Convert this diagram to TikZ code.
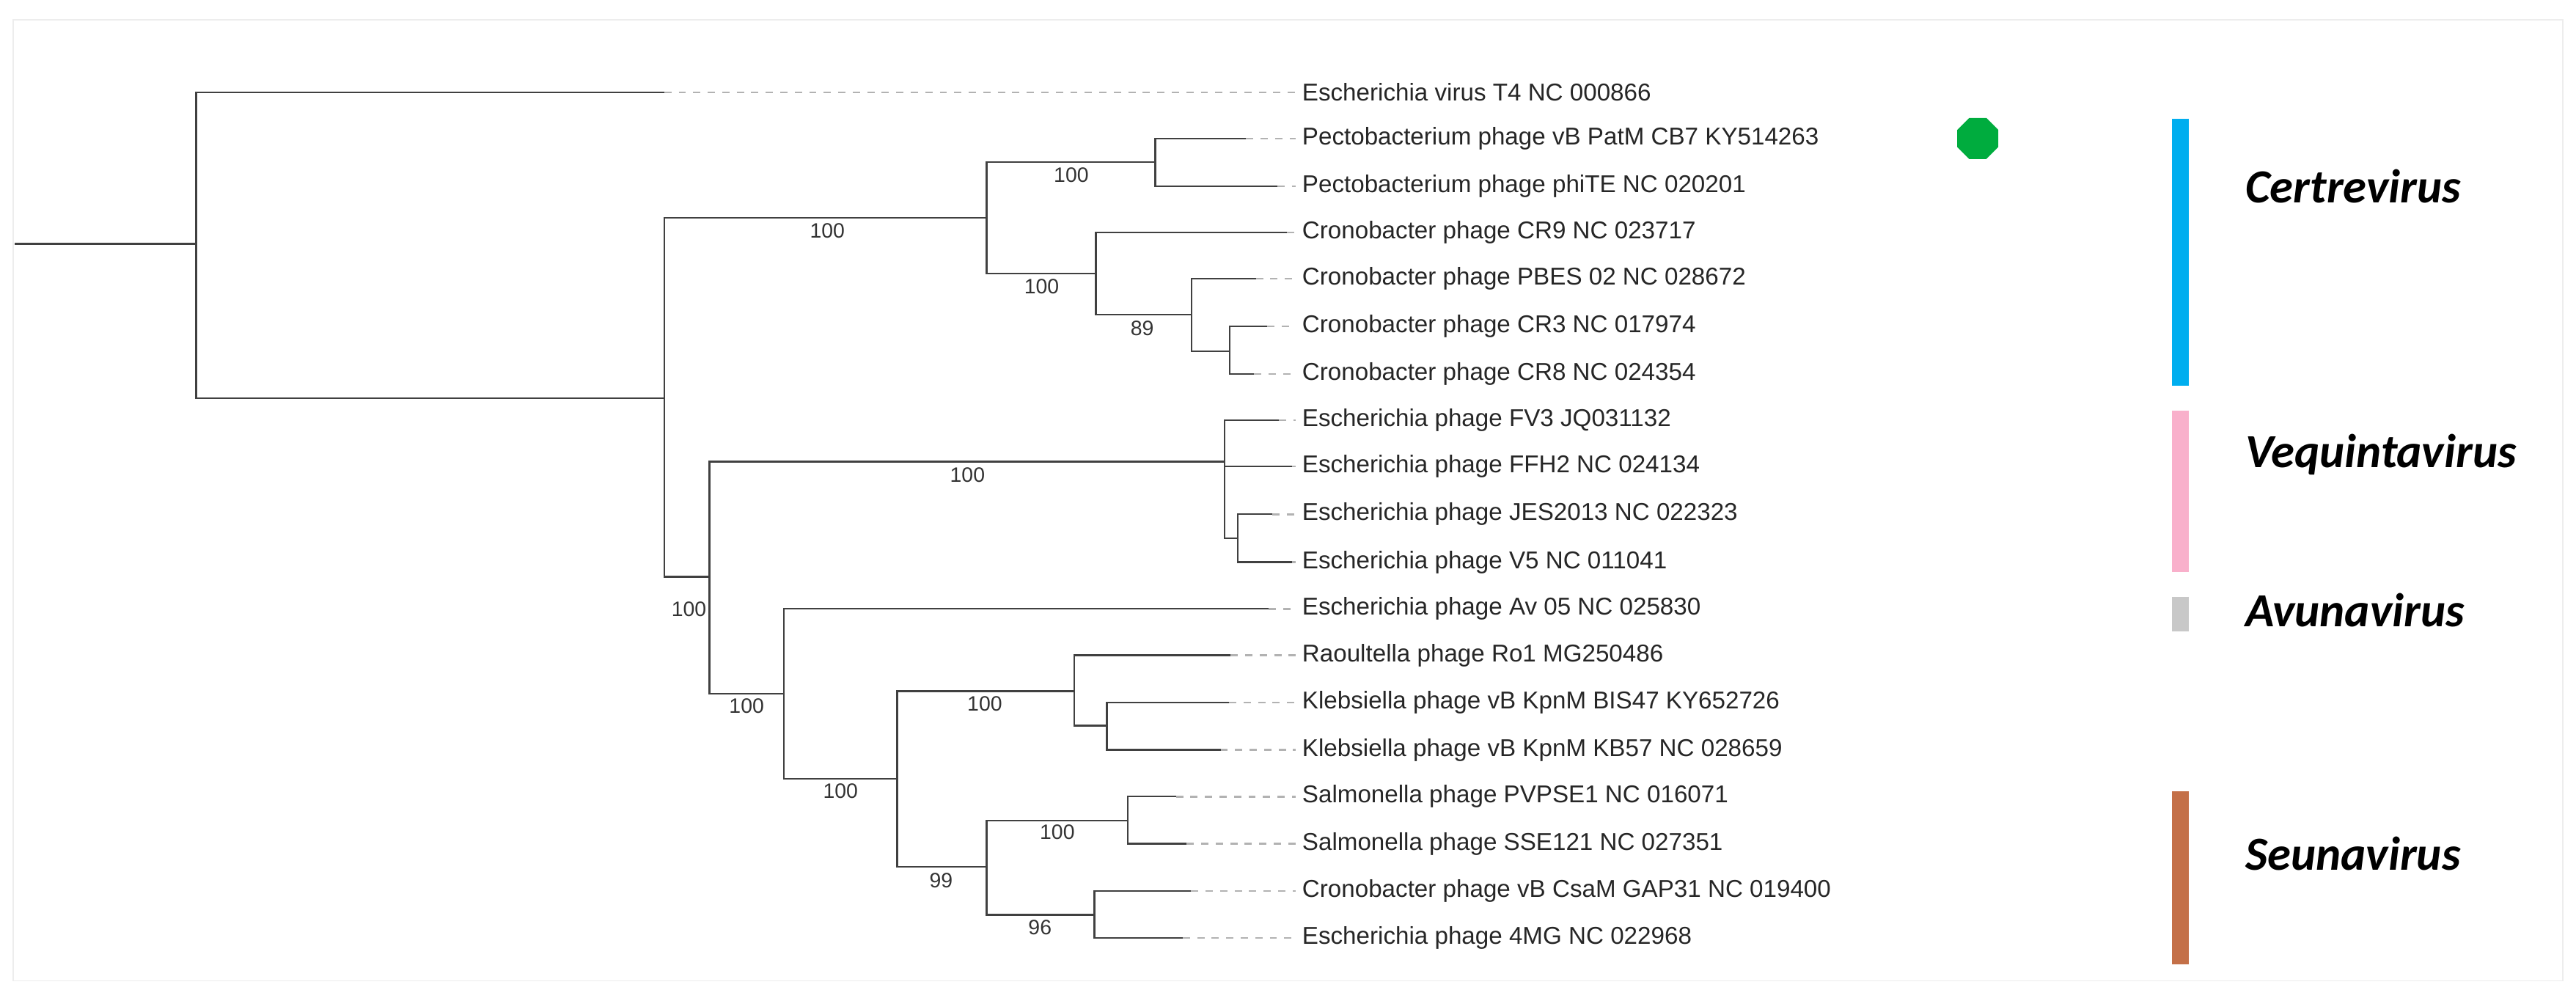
\documentclass[tikz,border=0pt]{standalone}
\usepackage{fontspec}
\setmainfont{Liberation Sans}
\newfontfamily\genusfont{Carlito}
\usetikzlibrary{shapes.geometric}

\definecolor{certre}{RGB}{0,174,239}
\definecolor{vequin}{RGB}{249,176,203}
\definecolor{avuna}{RGB}{200,200,200}
\definecolor{seuna}{RGB}{196,112,72}
\definecolor{marker}{RGB}{0,172,62}

\begin{document}
\begin{tikzpicture}[
  x=0.05cm, y=-0.05cm,
  branch/.style={
    draw=black!75,
    line width=1.5pt
  },
  guide/.style={
    draw=black!30,
    line width=1.6pt,
    dash pattern=on 0.22cm off 0.22cm
  },
  tip/.style={
    anchor=west,
    inner sep=0.2cm,
    font=\fontsize{21}{24}\selectfont,
    text=black!85
  },
  boot/.style={
    inner sep=0pt,
    font=\fontsize{18}{20}\selectfont,
    text=black!80
  },
  genus/.style={
    anchor=west,
    font=\genusfont\bfseries\itshape\fontsize{41}{45}\selectfont
  },
  bar/.style={
    line width=0.5cm
  }
]
  % frame
  \useasboundingbox (0,0) rectangle (1563,607);
  \draw[black!7, line width=1pt] (8,12) rectangle (1555,595);

  % internal nodes
  \coordinate (Root) at (9,148);
  \coordinate (N1) at (119,148);
  \coordinate (N2) at (403,241.5);
  \coordinate (Certre) at (598.6,132);
  \coordinate (Pecto) at (701,98.4);
  \coordinate (Crono) at (665,166);
  \coordinate (CronoB) at (723,191);
  \coordinate (CronoC) at (746,213);
  \coordinate (N8) at (430.5,350);
  \coordinate (Vequin) at (743,280);
  \coordinate (VequinB) at (751,326.5);
  \coordinate (N11) at (475.5,420.8);
  \coordinate (N12) at (544.4,472.4);
  \coordinate (Klebs) at (651.7,419.3);
  \coordinate (KlebsB) at (671.6,440.3);
  \coordinate (Seuna) at (598.6,526);
  \coordinate (Salmo) at (684.4,497.8);
  \coordinate (SeunaB) at (664,555);

  % branch ends
  \coordinate (eT4) at (403,56);
  \coordinate (eCB7) at (756,84);
  \coordinate (ePhiTE) at (775,113);
  \coordinate (eCR9) at (781,141);
  \coordinate (ePBES) at (762,169);
  \coordinate (eCR3) at (769,198);
  \coordinate (eCR8) at (761,227);
  \coordinate (eFV3) at (776,255);
  \coordinate (eFFH2) at (784,283);
  \coordinate (eJES) at (772,312);
  \coordinate (eV5) at (784,341);
  \coordinate (eAv) at (769.7,369.4);
  \coordinate (eRo1) at (746.7,397.6);
  \coordinate (eBIS) at (745.7,426.3);
  \coordinate (eKB) at (740.6,454.9);
  \coordinate (ePVP) at (713.5,483.3);
  \coordinate (eSSE) at (720,511.9);
  \coordinate (eGAP) at (722.7,540.5);
  \coordinate (e4MG) at (717.6,569);

  % tip labels
  \node[tip] (T4) at (786,56) {Escherichia virus T4 NC 000866};
  \node[tip] (CB7) at (786,84) {Pectobacterium phage vB PatM CB7 KY514263};
  \node[tip] (PhiTE) at (786,113) {Pectobacterium phage phiTE NC 020201};
  \node[tip] (CR9) at (786,141) {Cronobacter phage CR9 NC 023717};
  \node[tip] (PBES) at (786,169) {Cronobacter phage PBES 02 NC 028672};
  \node[tip] (CR3) at (786,198) {Cronobacter phage CR3 NC 017974};
  \node[tip] (CR8) at (786,227) {Cronobacter phage CR8 NC 024354};
  \node[tip] (FV3) at (786,255) {Escherichia phage FV3 JQ031132};
  \node[tip] (FFH2) at (786,283) {Escherichia phage FFH2 NC 024134};
  \node[tip] (JES) at (786,312) {Escherichia phage JES2013 NC 022323};
  \node[tip] (V5) at (786,341) {Escherichia phage V5 NC 011041};
  \node[tip] (Av) at (786,369.4) {Escherichia phage Av 05 NC 025830};
  \node[tip] (Ro1) at (786,397.6) {Raoultella phage Ro1 MG250486};
  \node[tip] (BIS) at (786,426.3) {Klebsiella phage vB KpnM BIS47 KY652726};
  \node[tip] (KB) at (786,454.9) {Klebsiella phage vB KpnM KB57 NC 028659};
  \node[tip] (PVP) at (786,483.3) {Salmonella phage PVPSE1 NC 016071};
  \node[tip] (SSE) at (786,511.9) {Salmonella phage SSE121 NC 027351};
  \node[tip] (GAP) at (786,540.5) {Cronobacter phage vB CsaM GAP31 NC 019400};
  \node[tip] (4MG) at (786,569) {Escherichia phage 4MG NC 022968};

  % tree
  \draw[branch] (Root) -- (N1);
  \draw[branch] (N1) |- (eT4);
  \draw[branch] (N1) |- (N2);
  \draw[branch] (N2) |- (Certre);
  \draw[branch] (Certre) |- (Pecto);
  \draw[branch] (Pecto) |- (eCB7);
  \draw[branch] (Pecto) |- (ePhiTE);
  \draw[branch] (Certre) |- (Crono);
  \draw[branch] (Crono) |- (eCR9);
  \draw[branch] (Crono) |- (CronoB);
  \draw[branch] (CronoB) |- (ePBES);
  \draw[branch] (CronoB) |- (CronoC);
  \draw[branch] (CronoC) |- (eCR3);
  \draw[branch] (CronoC) |- (eCR8);
  \draw[branch] (N2) |- (N8);
  \draw[branch] (N8) |- (Vequin);
  \draw[branch] (Vequin) |- (eFV3);
  \draw[branch] (Vequin) |- (eFFH2);
  \draw[branch] (Vequin) |- (VequinB);
  \draw[branch] (VequinB) |- (eJES);
  \draw[branch] (VequinB) |- (eV5);
  \draw[branch] (N8) |- (N11);
  \draw[branch] (N11) |- (eAv);
  \draw[branch] (N11) |- (N12);
  \draw[branch] (N12) |- (Klebs);
  \draw[branch] (Klebs) |- (eRo1);
  \draw[branch] (Klebs) |- (KlebsB);
  \draw[branch] (KlebsB) |- (eBIS);
  \draw[branch] (KlebsB) |- (eKB);
  \draw[branch] (N12) |- (Seuna);
  \draw[branch] (Seuna) |- (Salmo);
  \draw[branch] (Salmo) |- (ePVP);
  \draw[branch] (Salmo) |- (eSSE);
  \draw[branch] (Seuna) |- (SeunaB);
  \draw[branch] (SeunaB) |- (eGAP);
  \draw[branch] (SeunaB) |- (e4MG);

  % dotted guides to labels
  \foreach \e/\t in {eT4/T4,eCB7/CB7,ePhiTE/PhiTE,eCR9/CR9,ePBES/PBES,eCR3/CR3,
      eCR8/CR8,eFV3/FV3,eFFH2/FFH2,eJES/JES,eV5/V5,eAv/Av,eRo1/Ro1,eBIS/BIS,
      eKB/KB,ePVP/PVP,eSSE/SSE,eGAP/GAP,e4MG/4MG}
    \draw[guide] (\e) -- (\t.west);

  % bootstrap values
  \node[boot] (bCertre) at (502,140) {100};
  \node[boot] (bPecto) at (650,106) {100};
  \node[boot] (bCrono) at (632,174) {100};
  \node[boot] (bCronoB) at (693,199) {89};
  \node[boot] (bVequin) at (587,288) {100};
  \node[boot] (bN8) at (418,369.5) {100};
  \node[boot] (bN11) at (453,428.5) {100};
  \node[boot] (bN12) at (510,480) {100};
  \node[boot] (bKlebs) at (597.5,427) {100};
  \node[boot] (bSeuna) at (571,534) {99};
  \node[boot] (bSalmo) at (641.5,505) {100};
  \node[boot] (bSeunaB) at (631,562.8) {96};

  % marker
  \node[regular polygon, regular polygon sides=8, fill=marker,
    minimum size=1.35cm, inner sep=0pt] (Mark) at (1200,84) {};

  % genus bars
  \draw[bar, certre] (1323,72) -- (1323,234);
  \draw[bar, vequin] (1323,249) -- (1323,347);
  \draw[bar, avuna] (1323,362) -- (1323,383);
  \draw[bar, seuna] (1323,480) -- (1323,585);
  \node[genus] (gCertre) at (1360,113) {Certrevirus};
  \node[genus] (gVequin) at (1360,276) {Vequintavirus};
  \node[genus] (gAvuna) at (1360,370) {Avunavirus};
  \node[genus] (gSeuna) at (1360,518) {Seunavirus};
\end{tikzpicture}
\end{document}
